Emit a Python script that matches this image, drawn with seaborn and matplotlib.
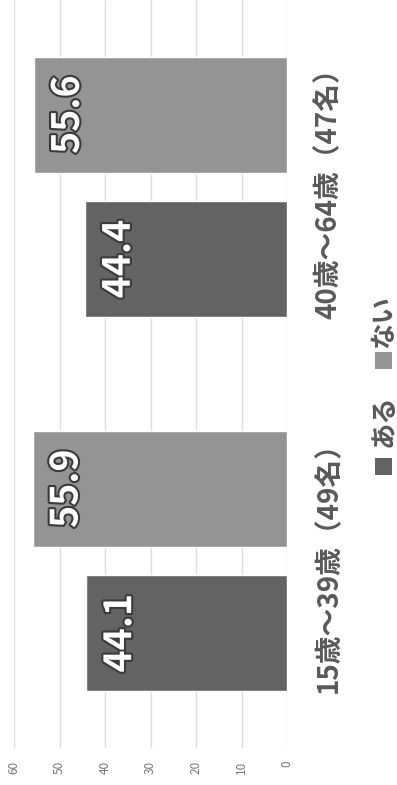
import matplotlib
matplotlib.use("Agg")
import matplotlib.pyplot as plt
import seaborn as sns
import pandas as pd
from matplotlib import patheffects as pe
from matplotlib.patches import Rectangle

# ---- data ----
categories = ["15歳〜39歳（49名）", "40歳〜64歳（47名）"]
series_names = ["ある", "ない"]
aru_values = [44.1, 44.4]
nai_values = [55.9, 55.6]
value_ticks = [0, 10, 20, 30, 40, 50, 60]

sns.set_theme(style="white")
plt.rcParams["font.family"] = ["Noto Sans CJK JP", "DejaVu Sans"]

df = pd.DataFrame({
    "group": categories * 2,
    "series": [series_names[0]] * len(categories) + [series_names[1]] * len(categories),
    "value": aru_values + nai_values,
})

W, H = 397, 785
fig = plt.figure(figsize=(W / 100, H / 100), dpi=100)
ax = fig.add_axes([14 / W, 37 / H, 273 / W, 748 / H])

palette = {"ある": "#636363", "ない": "#949494"}
sns.barplot(data=df, y="group", x="value", hue="series",
            order=categories[::-1], hue_order=["ない", "ある"],
            palette=palette, saturation=1, width=0.773, gap=0.2,
            orient="h", ax=ax, legend=False)

ax.set_xlim(60, 0)
ax.set_ylim(1.5, -0.5)
ax.set_xticks(value_ticks)
ax.set_xticklabels([str(v) for v in value_ticks], rotation=90,
                   color="#777777", fontsize=8.5)
ax.tick_params(axis="x", length=0, pad=9)
ax.grid(axis="x", color="#dddddd", lw=1)
ax.grid(axis="y", visible=False)
ax.set_axisbelow(True)
for s in ax.spines.values():
    s.set_visible(False)

ax.yaxis.tick_right()
ax.set_yticks([0, 1])
ax.set_yticklabels(categories[::-1], rotation=90, fontsize=20,
                   fontweight="bold", color="#595959", va="center")
ax.tick_params(axis="y", length=0, pad=20)
ax.set_xlabel("")
ax.set_ylabel("")

# value labels inside bar ends
for cont in ax.containers:
    for p in cont:
        w = p.get_width()
        yc = p.get_y() + p.get_height() / 2
        ax.annotate(f"{w:.1f}", xy=(w, yc), xytext=(24, 0),
                    textcoords="offset points", rotation=90,
                    ha="center", va="center", fontsize=27,
                    fontweight="bold", color="white",
                    path_effects=[pe.withStroke(linewidth=3, foreground="#3a3a3a")])

# legend (rotated, manual)
for name, ytop in [("ある", 458), ("ない", 352)]:
    fig.add_artist(Rectangle((375 / W, 1 - (ytop + 17) / H), 17 / W, 17 / H,
                             transform=fig.transFigure, color=palette[name], lw=0))
fig.text(384 / W, 1 - 421 / H, "ある", rotation=90, ha="center", va="center",
         fontsize=19, fontweight="bold", color="#595959")
fig.text(384 / W, 1 - 322 / H, "ない", rotation=90, ha="center", va="center",
         fontsize=19, fontweight="bold", color="#595959")

fig.savefig("out.png", dpi=100, facecolor="white")
